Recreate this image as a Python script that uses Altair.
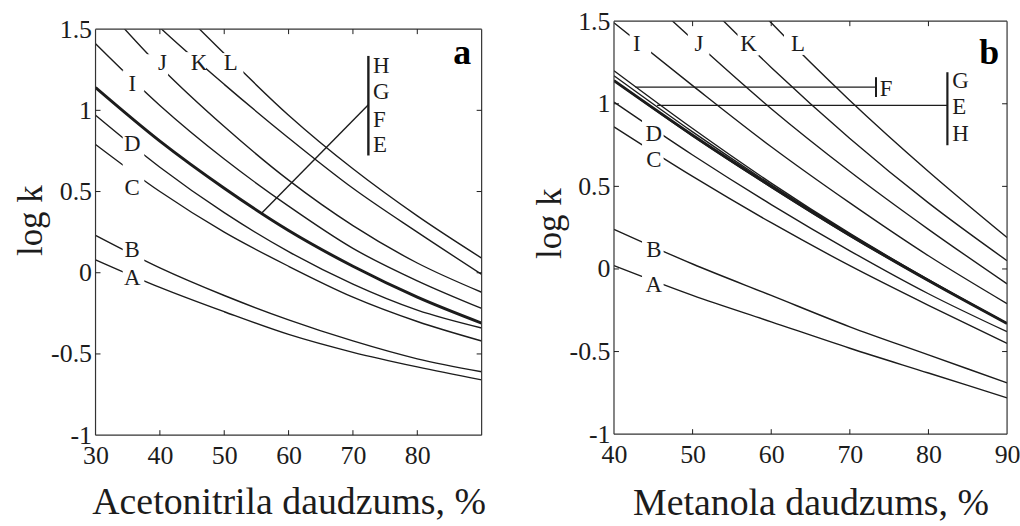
import altair as alt
import pandas as pd

FONT = "Liberation Serif"
INK = "#1c1c1c"

# ---------------- panel (a): acetonitrile ----------------
acn_x = [30, 40, 50, 60, 70, 80, 90]
acn_A = [0.08, -0.09, -0.24, -0.38, -0.49, -0.58, -0.66]
acn_B = [0.23, 0.03, -0.14, -0.29, -0.42, -0.53, -0.61]
acn_C = [0.79, 0.50, 0.25, 0.04, -0.15, -0.30, -0.42]
acn_D = [0.97, 0.65, 0.37, 0.13, -0.07, -0.23, -0.34]
acn_EFGH = [1.14, 0.81, 0.52, 0.26, 0.04, -0.15, -0.31]
acn_I = [1.41, 1.03, 0.70, 0.41, 0.15, -0.05, -0.22]
acn_J = [1.70, 1.27, 0.90, 0.57, 0.29, 0.06, -0.12]
acn_K = [1.90, 1.51, 1.16, 0.83, 0.52, 0.25, -0.01]
acn_L = [2.20, 1.75, 1.35, 0.97, 0.64, 0.35, 0.09]

acn_names = ["A", "B", "C", "D", "I", "J", "K", "L"]
acn_label_x = [35.7, 35.7, 35.7, 35.7, 35.7, 40.4, 46.1, 51.0]
acn_label_y = [-0.03, 0.14, 0.52, 0.79, 1.16, 1.29, 1.29, 1.29]
acn_gap_x = [35.9, 35.9, 35.9, 35.9, 35.9, 39.6, 45.5, 51.3]
acn_gap_y = [-0.02, 0.10, 0.615, 0.774, 1.181, 1.279, 1.292, 1.286]

acn_tags = ["H", "G", "F", "E"]
acn_tag_x = [73.1, 73.1, 73.1, 73.1]
acn_tag_y = [1.275, 1.112, 0.938, 0.785]
# pointer from the thick curve to the bracket, then the bracket itself
acn_seg_x = [55.8, 72.4]
acn_seg_y = [0.366, 0.722]
acn_seg_x2 = [72.4, 72.4]
acn_seg_y2 = [1.034, 1.335]
acn_seg_w = [1.4, 2.4]

# ---------------- panel (b): methanol ----------------
meoh_x = [40, 50, 60, 70, 80, 90]
meoh_A = [0.02, -0.16, -0.32, -0.48, -0.63, -0.78]
meoh_B = [0.24, 0.03, -0.16, -0.35, -0.52, -0.69]
meoh_C = [0.86, 0.56, 0.28, 0.02, -0.22, -0.45]
meoh_D = [1.01, 0.69, 0.39, 0.11, -0.15, -0.38]
meoh_F = [1.20, 0.85, 0.52, 0.215, -0.065, -0.33]
meoh_G = [1.17, 0.83, 0.51, 0.21, -0.068, -0.33]
meoh_E = [1.14, 0.81, 0.50, 0.205, -0.07, -0.33]
meoh_H = [1.14, 0.805, 0.495, 0.20, -0.072, -0.33]
meoh_I = [1.49, 1.11, 0.74, 0.40, 0.08, -0.21]
meoh_J = [1.83, 1.39, 0.97, 0.59, 0.24, -0.09]
meoh_K = [2.19, 1.69, 1.22, 0.79, 0.40, 0.05]
meoh_L = [2.56, 2.01, 1.49, 1.02, 0.59, 0.19]

meoh_names = ["A", "B", "C", "D", "I", "J", "K", "L"]
meoh_label_x = [45.06, 45.06, 45.06, 45.06, 42.9, 50.8, 57.1, 63.4]
meoh_label_y = [-0.095, 0.116, 0.658, 0.819, 1.36, 1.36, 1.36, 1.36]
meoh_gap_x = [44.94, 44.94, 44.94, 44.94, 43.35, 50.76, 57.09, 63.0]
meoh_gap_y = [-0.079, 0.137, 0.699, 0.849, 1.355, 1.361, 1.357, 1.361]

meoh_tags = ["F", "G", "E", "H"]
meoh_tag_x = [73.8, 83.04, 83.04, 83.04]
meoh_tag_y = [1.09, 1.14, 0.98, 0.819]
meoh_seg_x = [42.74, 73.33, 45.48, 82.41]
meoh_seg_y = [1.101, 1.161, 0.990, 1.191]
meoh_seg_x2 = [73.33, 73.33, 82.41, 82.41]
meoh_seg_y2 = [1.101, 1.041, 0.990, 0.749]
meoh_seg_w = [1.4, 2.0, 1.4, 2.2]

y_values = [-1, -0.5, 0, 0.5, 1, 1.5]
y_inner_ticks = [-0.5, 0, 0.5, 1]
Y_LO, Y_HI = -1, 1.5
TICK_PX = 5


def panel(xs, series, thick, names, lab_x, lab_y, gap_x, gap_y,
          seg, tags, tag_x, tag_y, corner, corner_x, corner_y,
          x_dom, x_labels, x_inner, x_title, W, H, y_top, title_pad, ytitle_y):
    rows = []
    for name, vals in series:
        for x, v in zip(xs, vals):
            rows.append({"curve": name, "x": x, "v": v,
                         "w": 3.0 if name in thick else 1.4})
    curves = pd.DataFrame(rows)

    # data units per pixel, used for the short inward tick marks
    dy = (y_top - Y_LO) / H * TICK_PX
    dx = (x_dom[1] - x_dom[0]) / W * TICK_PX

    xe = alt.X("x:Q",
               scale=alt.Scale(domain=x_dom, nice=False, zero=False),
               axis=alt.Axis(values=x_labels, format="d", title=x_title,
                             grid=False, ticks=False, domain=False,
                             labelFont=FONT, labelFontSize=26, labelColor=INK,
                             labelPadding=7, labelFlush=False, labelOverlap=False,
                             titleFont=FONT, titleFontSize=38,
                             titleFontWeight="normal", titleColor=INK,
                             titlePadding=title_pad))
    ye = alt.Y("v:Q",
               scale=alt.Scale(domain=[Y_LO, y_top], nice=False, zero=False),
               axis=alt.Axis(values=y_values, title="log k",
                             labelExpr="datum.value < 0 ? '-' + format(-datum.value, '~g') : format(datum.value, '~g')",
                             grid=False, ticks=False, domain=False,
                             labelFont=FONT, labelFontSize=26, labelColor=INK,
                             labelPadding=4, labelFlush=False, labelOverlap=False,
                             titleFont=FONT, titleFontSize=35,
                             titleFontWeight="normal", titleColor=INK,
                             titlePadding=2, titleY=ytitle_y))

    lines = alt.Chart(curves).mark_line(
        interpolate="monotone", clip=True, color=INK
    ).encode(x=xe, y=ye, detail="curve:N",
             strokeWidth=alt.StrokeWidth("w:Q", scale=None))

    layers = [lines]
    if y_top > Y_HI:
        # blank band above the 1.5 line (the band only offsets this panel)
        cover = alt.Chart(pd.DataFrame({"x": [x_dom[0] - 1], "x2": [x_dom[1] + 1],
                                        "v": [Y_HI], "v2": [y_top + 0.04]})).mark_rect(
            color="white", opacity=1).encode(x=xe, x2="x2:Q", y=ye, y2="v2:Q")
        layers.append(cover)

    gaps = alt.Chart(pd.DataFrame({"x": gap_x, "v": gap_y})).mark_square(
        color="white", filled=True, opacity=1, size=470, strokeWidth=0
    ).encode(x=xe, y=ye)

    labels = alt.Chart(pd.DataFrame({"x": lab_x, "v": lab_y, "t": names})).mark_text(
        font=FONT, fontSize=23, color=INK
    ).encode(x=xe, y=ye, text="t:N")

    segs = alt.Chart(pd.DataFrame(seg)).mark_rule(color=INK).encode(
        x=xe, y=ye, x2="x2:Q", y2="v2:Q",
        strokeWidth=alt.StrokeWidth("w:Q", scale=None))

    tag_text = alt.Chart(pd.DataFrame({"x": tag_x, "v": tag_y, "t": tags})).mark_text(
        font=FONT, fontSize=23, color=INK, align="left"
    ).encode(x=xe, y=ye, text="t:N")

    corner_text = alt.Chart(pd.DataFrame({"x": [corner_x], "v": [corner_y], "t": [corner]})).mark_text(
        font=FONT, fontSize=36, fontWeight="bold", color="#000", baseline="alphabetic"
    ).encode(x=xe, y=ye, text="t:N")

    # box frame around the plot
    x0, x1 = x_dom
    frame = pd.DataFrame({"x": [x0, x1, x0, x0], "x2": [x0, x1, x1, x1],
                          "v": [Y_LO, Y_LO, Y_LO, Y_HI],
                          "v2": [Y_HI, Y_HI, Y_LO, Y_HI]})
    frame_rules = alt.Chart(frame).mark_rule(color="#333333", strokeWidth=1.2).encode(
        x=xe, x2="x2:Q", y=ye, y2="v2:Q")

    # short inward ticks on all four sides
    tick_rows = []
    for t in x_inner:
        tick_rows.append({"x": t, "x2": t, "v": Y_LO, "v2": Y_LO + dy})
        tick_rows.append({"x": t, "x2": t, "v": Y_HI, "v2": Y_HI - dy})
    for t in y_inner_ticks:
        tick_rows.append({"x": x0, "x2": x0 + dx, "v": t, "v2": t})
        tick_rows.append({"x": x1, "x2": x1 - dx, "v": t, "v2": t})
    ticks = alt.Chart(pd.DataFrame(tick_rows)).mark_rule(color=INK, strokeWidth=1).encode(
        x=xe, x2="x2:Q", y=ye, y2="v2:Q")

    layers += [gaps, labels, segs, tag_text, corner_text, frame_rules, ticks]
    return alt.layer(*layers).properties(width=W, height=H)


acn_series = [("A", acn_A), ("B", acn_B), ("C", acn_C), ("D", acn_D),
              ("EFGH", acn_EFGH), ("I", acn_I), ("J", acn_J), ("K", acn_K),
              ("L", acn_L)]
acn_seg = {"x": acn_seg_x, "v": acn_seg_y, "x2": acn_seg_x2,
           "v2": acn_seg_y2, "w": acn_seg_w}

meoh_series = [("A", meoh_A), ("B", meoh_B), ("C", meoh_C), ("D", meoh_D),
               ("F", meoh_F), ("G", meoh_G), ("E", meoh_E), ("H", meoh_H),
               ("I", meoh_I), ("J", meoh_J), ("K", meoh_K), ("L", meoh_L)]
meoh_seg = {"x": meoh_seg_x, "v": meoh_seg_y, "x2": meoh_seg_x2,
            "v2": meoh_seg_y2, "w": meoh_seg_w}

# panel (a) sits 8 px lower than (b): its scale reaches a little above 1.5
pa = panel(acn_x, acn_series, {"EFGH"}, acn_names, acn_label_x, acn_label_y,
           acn_gap_x, acn_gap_y, acn_seg, acn_tags, acn_tag_x, acn_tag_y,
           "a", 86.98, 1.286, [30, 90], [30, 40, 50, 60, 70, 80],
           [40, 50, 60, 70, 80], "Acetonitrila daudzums, %", 388, 416, 1.549, 16, 200)

pb = panel(meoh_x, meoh_series, {"E"}, meoh_names, meoh_label_x, meoh_label_y,
           meoh_gap_x, meoh_gap_y, meoh_seg, meoh_tags, meoh_tag_x, meoh_tag_y,
           "b", 87.72, 1.241, [40, 90], [40, 50, 60, 70, 80, 90],
           [50, 60, 70, 80], "Metanola daudzums, %", 395, 415, 1.5, 18, 203)

chart = alt.hconcat(pa, pb, spacing=43).properties(
    padding={"left": 13, "top": 7, "right": 0, "bottom": 0},
    background="white",
).configure_view(stroke=None)

chart.save("out.html", embed_options={"renderer": "svg", "actions": False})
